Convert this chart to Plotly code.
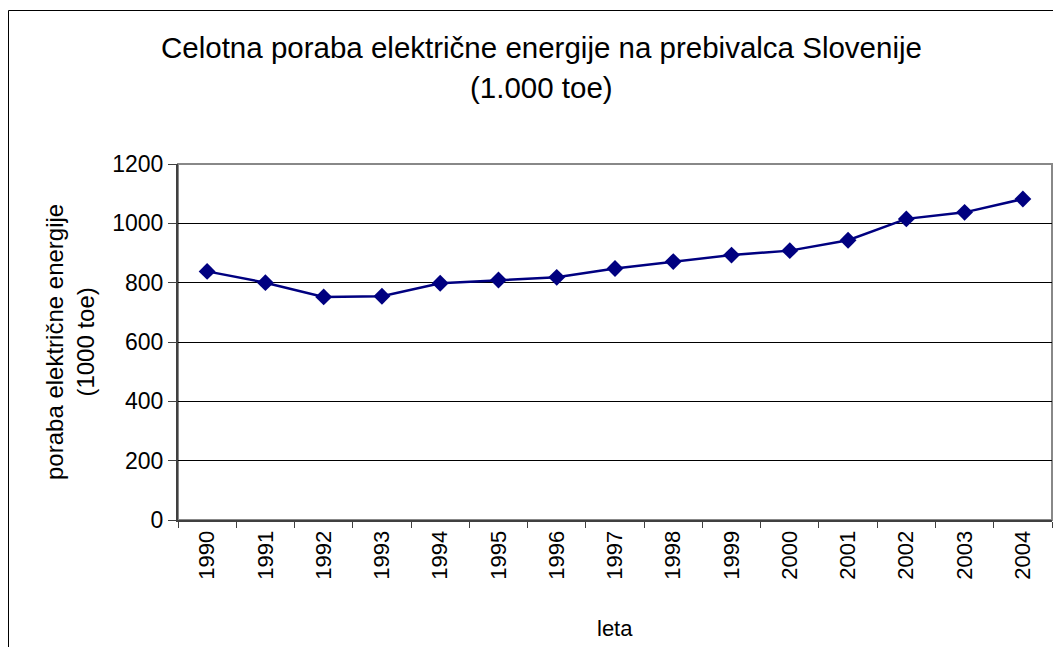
import plotly.graph_objects as go

years = ["1990", "1991", "1992", "1993", "1994", "1995", "1996", "1997",
         "1998", "1999", "2000", "2001", "2002", "2003", "2004"]
consumption = [838, 800, 752, 754, 798, 809, 818, 848, 871, 893, 908, 943, 1015, 1037, 1082]
y_ticks = [0, 200, 400, 600, 800, 1000, 1200]

title_line1 = "Celotna poraba električne energije na prebivalca Slovenije"
title_line2 = "(1.000 toe)"
y_title = "poraba električne energije<br>(1000 toe)"
x_title = "leta"

OFF = 8  # page body margin
W, H = 1061 - OFF, 647 - OFF
# plot area in page pixels: x 178..1052, y 164..520
L, T = 178 - OFF, 164 - OFF
pw, ph = 874, 356
R = W - L - pw
B = H - T - ph

def px(x):
    return (x - OFF - L) / pw

def py(y):
    return (T + ph - (y - OFF)) / ph

FONT = "Liberation Sans, Arial, sans-serif"

fig = go.Figure()
fig.add_trace(go.Scatter(
    x=years, y=consumption, mode="lines+markers",
    line=dict(color="#000080", width=2.5),
    marker=dict(symbol="diamond", size=13, color="#000080"),
    showlegend=False, cliponaxis=False,
))

fig.update_layout(
    width=W, height=H,
    margin=dict(l=L, r=R, t=T, b=B, pad=0),
    paper_bgcolor="white", plot_bgcolor="white",
    font=dict(family=FONT, color="black", size=22),
    xaxis=dict(
        type="category", range=[-0.5, len(years) - 0.5],
        tickson="boundaries", ticks="outside", ticklen=6, tickcolor="#404040",
        tickangle=-90, tickfont=dict(size=22),
        showline=True, linecolor="#404040", linewidth=2,
        showgrid=False, zeroline=False,
    ),
    yaxis=dict(
        range=[0, 1200], tickvals=y_ticks, ticks="outside", ticklen=8,
        tickcolor="#404040", tickfont=dict(size=23),
        showline=True, linecolor="#404040", linewidth=2,
        showgrid=True, gridcolor="black", gridwidth=1, zeroline=False,
    ),
    shapes=[
        dict(type="rect", xref="paper", yref="paper", x0=0, x1=1, y0=0, y1=1,
             line=dict(color="#888888", width=2), layer="below"),
        dict(type="rect", xref="paper", yref="paper",
             x0=px(8.5), x1=px(1075), y0=py(10.5), y1=py(700),
             line=dict(color="black", width=1)),
    ],
    annotations=[
        dict(text=title_line1, x=px(541), y=py(47), xref="paper", yref="paper",
             showarrow=False, xanchor="center", yanchor="middle",
             font=dict(size=29.5)),
        dict(text=title_line2, x=px(541), y=py(88), xref="paper", yref="paper",
             showarrow=False, xanchor="center", yanchor="middle",
             font=dict(size=29.5)),
        dict(text=y_title, x=px(70), y=py(342), xref="paper", yref="paper",
             showarrow=False, xanchor="center", yanchor="middle", textangle=-90,
             font=dict(size=24)),
        dict(text=x_title, x=px(615), y=py(628), xref="paper", yref="paper",
             showarrow=False, xanchor="center", yanchor="middle",
             font=dict(size=22)),
    ],
)

fig.write_html("out.html")
